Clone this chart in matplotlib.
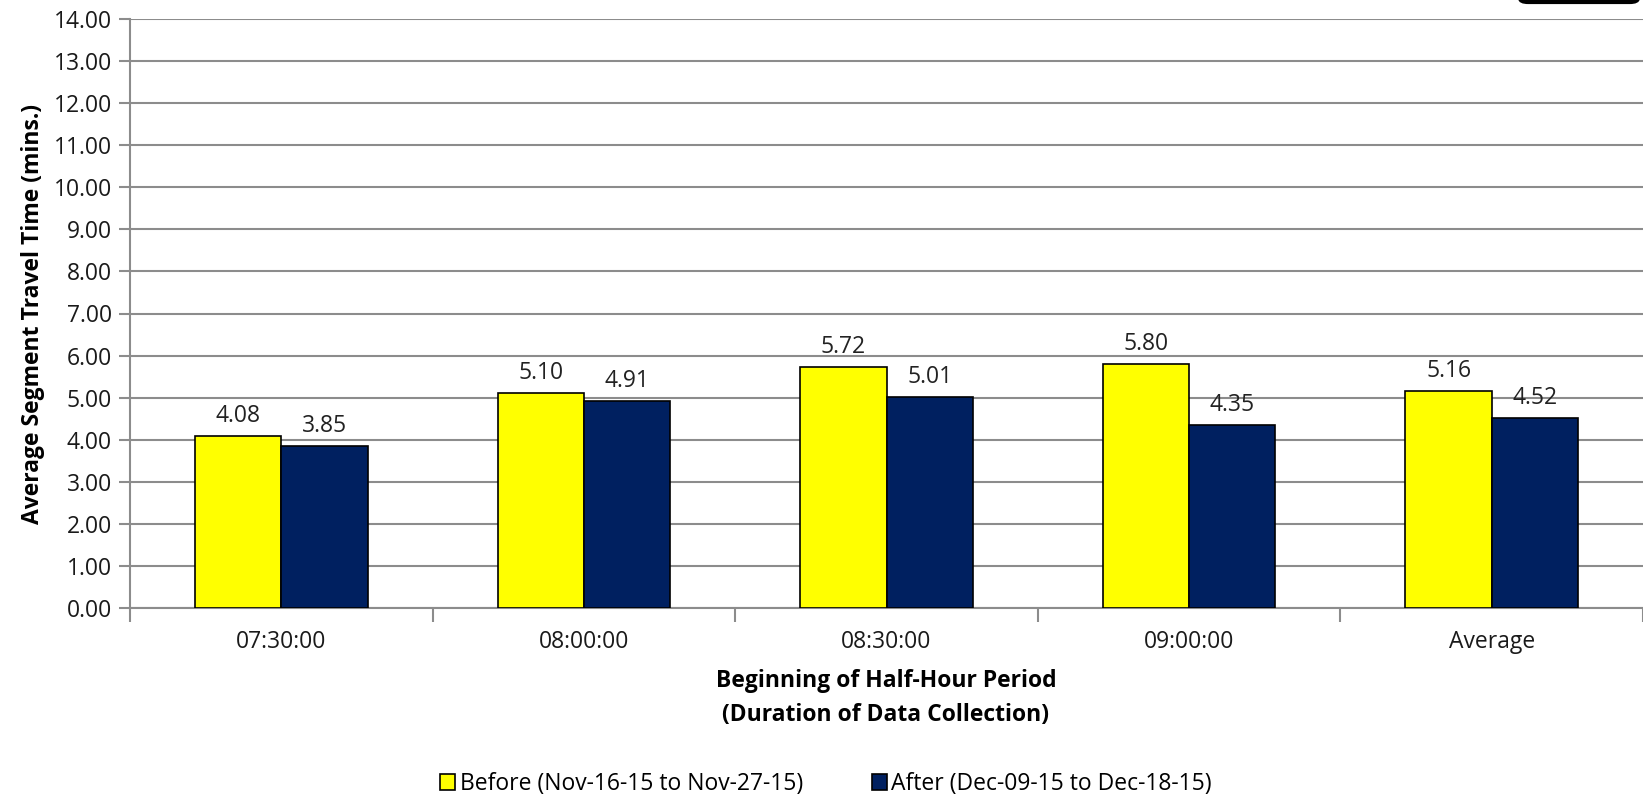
import matplotlib.pyplot as plt
import numpy as np
from matplotlib.patches import FancyBboxPatch

periods = ['07:30:00', '08:00:00', '08:30:00', '09:00:00', 'Average']
before = [4.08, 5.10, 5.72, 5.80, 5.16]
after = [3.85, 4.91, 5.01, 4.35, 4.52]
before_label = 'Before (Nov-16-15 to Nov-27-15)'
after_label = 'After (Dec-09-15 to Dec-18-15)'

plt.rcParams['font.family'] = ['Open Sans', 'DejaVu Sans']
fs = 16.5

fig = plt.figure(figsize=(16.43, 7.97), dpi=100)
ax = fig.add_axes([130 / 1643, 1 - 608 / 797, 1 - 130 / 1643, (608 - 19) / 797])

x = np.arange(len(periods))
w = 0.285
b1 = ax.bar(x - w / 2, before, w, color='#FFFF00', edgecolor='black', linewidth=1.2,
            label=before_label, zorder=3)
b2 = ax.bar(x + w / 2, after, w, color='#002060', edgecolor='black', linewidth=1.2,
            label=after_label, zorder=3)

for bars in (b1, b2):
    for r in bars:
        h = r.get_height()
        ax.annotate('%.2f' % h, (r.get_x() + r.get_width() / 2, h),
                    xytext=(0, 6), textcoords='offset points', ha='center', va='bottom',
                    fontsize=fs, color='#222222')

ax.set_xlim(-0.5, len(periods) - 0.5)
ax.set_ylim(0, 14)
ax.set_yticks(np.arange(0, 15, 1))
ax.set_yticklabels(['%.2f' % v for v in np.arange(0, 15, 1)], fontsize=fs, color='#1a1a1a')
ax.yaxis.grid(True, color='#8c8c8c', linewidth=1.5, zorder=0)

# category boundaries carry the ticks, labels sit in between
ax.set_xticks(np.arange(-0.5, len(periods), 1))
ax.set_xticklabels([])
ax.set_xticks(x, minor=True)
ax.set_xticklabels(periods, minor=True, fontsize=fs, color='#1a1a1a')
ax.tick_params(axis='x', which='major', length=10, width=1.5, color='#8c8c8c', direction='out')
ax.tick_params(axis='x', which='minor', length=0, pad=16)
ax.tick_params(axis='y', length=8, width=1.5, color='#8c8c8c', pad=5)

for s in ['top', 'right']:
    ax.spines[s].set_visible(False)
for s in ['left', 'bottom']:
    ax.spines[s].set_color('#8c8c8c')
    ax.spines[s].set_linewidth(1.5)

ax.set_ylabel('Average Segment Travel Time (mins.)', fontsize=fs, fontweight='bold', labelpad=6)
fig.text(886 / 1643, 1 - 698 / 797, 'Beginning of Half-Hour Period\n(Duration of Data Collection)',
         ha='center', va='center', fontsize=fs, fontweight='bold', linespacing=1.55)

fig.legend(handles=[b1, b2], loc='center', bbox_to_anchor=(826 / 1643, 1 - 784 / 797),
           ncol=2, frameon=False, fontsize=fs, handlelength=0.65, handleheight=0.65,
           handletextpad=0.2, columnspacing=3.0)

box = FancyBboxPatch((1520 / 1643, 1 - 2 / 797), 118 / 1643, 30 / 797,
                     boxstyle='round,pad=0,rounding_size=0.005', transform=fig.transFigure,
                     facecolor='white', edgecolor='black', linewidth=3, clip_on=False)
fig.patches.append(box)

fig.savefig('out.png', dpi=100)
